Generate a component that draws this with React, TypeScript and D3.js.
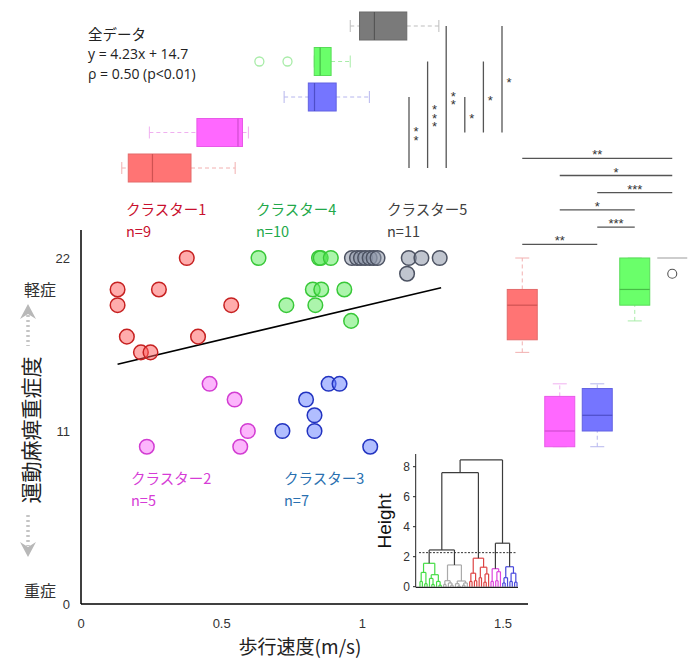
import React from 'react';
import * as d3 from 'd3';

// ---------- data ----------
const clusterNames = ['クラスター1', 'クラスター2', 'クラスター3', 'クラスター4', 'クラスター5'];
const clusterN = [9, 5, 7, 10, 11];

const speed1 = [0.376, 0.13, 0.277, 0.13, 0.534, 0.163, 0.416, 0.213, 0.247];
const severity1 = [22, 20, 20, 19, 19, 17, 17, 16, 16];
const speed2 = [0.457, 0.546, 0.593, 0.234, 0.566];
const severity2 = [14, 13, 11, 10, 10];
const speed3 = [0.88, 0.919, 0.8, 0.83, 0.716, 0.83, 1.028];
const severity3 = [14, 14, 13, 12, 11, 11, 10];
const speed4 = [0.631, 0.846, 0.852, 0.888, 0.824, 0.854, 0.936, 0.73, 0.833, 0.96];
const severity4 = [22, 22, 22, 22, 20, 20, 20, 19, 19, 18];
const speed5 = [0.963, 0.981, 0.995, 1.01, 1.026, 1.04, 1.054, 1.165, 1.21, 1.275, 1.159];
const severity5 = [22, 22, 22, 22, 22, 22, 22, 22, 22, 22, 21];

const regSlope = 4.23;
const regIntercept = 14.7;
const regRange = [0.13, 1.28];

const xTicks = [0, 0.5, 1, 1.5];
const xTickLabels = ['0', '0.5', '1', '1.5'];
const yTicks = [0, 11, 22];

// box stats: [min, q1, median, q3, max]
const speedBoxes = [
  [0.145, 0.168, 0.254, 0.391, 0.548],
  [0.243, 0.412, 0.558, 0.574, 0.595],
  [0.722, 0.808, 0.83, 0.907, 1.025],
  [0.829, 0.829, 0.85, 0.889, 0.957],
  [0.957, 0.99, 1.043, 1.158, 1.272],
];
const speedOutliers = [[], [], [], [0.634, 0.734], []];
const severityBoxes = [
  [16, 16.8, 19, 20, 22],
  [10, 10, 11, 13.2, 14],
  [10, 11, 12, 13.7, 14],
  [18, 19, 20, 22, 22],
  [22, 22, 22, 22, 22],
];
const severityOutliers = [[], [], [], [], [21]];

const speedComparisons: [number, number, string][] = [
  [1, 3, '**'], [1, 4, '***'], [1, 5, '**'], [2, 3, '*'], [2, 4, '*'], [2, 5, '*'],
];
const severityComparisons: [number, number, string][] = [
  [1, 5, '**'], [2, 5, '*'], [3, 5, '***'], [2, 4, '*'], [3, 4, '***'], [1, 3, '**'],
];

// dendrogram: [height, left, right], leaf = 0
const dendroC4: any = [1.56, [0.95, [0.35, 0, 0], [0.2, 0, 0]], [0.8, [0.55, 0, [0.15, 0, 0]], [0.35, 0, [0.1, 0, 0]]]];
const dendroC5: any = [1.45, [0.4, [0.15, 0, 0], [0.25, 0, [0.1, 0, 0]]], [0.38, [0.2, 0, [0.05, 0, 0]], [0.25, [0.1, 0, 0], 0]]];
const dendroC1: any = [1.9, [0.9, [0.35, 0, 0], [0.4, 0, 0]], [1.3, [0.6, 0, 0], [0.85, [0.3, 0, 0], 0]]];
const dendroC2: any = [1.2, [0.35, 0, 0], [1.0, [0.4, 0, 0], 0]];
const dendroC3: any = [1.33, [0.6, [0.25, 0, 0], 0], [0.9, [0.35, 0, 0], [0.3, 0, 0]]];
const dendroTop: any = [8.45, [7.6, [2.45, 'c4', 'c5'], 'c1'], [2.9, 'c2', 'c3']];
const dendroCut = 2.27;
const dendroTicks = [0, 2, 4, 6, 8];

// ---------- styles ----------
const JP = "'Noto Sans CJK JP', 'Noto Sans', sans-serif";
const LAT = "'Open Sans', 'Noto Sans CJK JP', sans-serif";
const NUM = "'Liberation Sans', Arial, sans-serif";

const ptFill = ['rgba(255,90,90,0.5)', 'rgba(250,110,250,0.5)', 'rgba(100,125,255,0.5)', 'rgba(90,235,90,0.5)', 'rgba(140,150,168,0.55)'];
const ptStroke = ['#c62020', '#d23cd2', '#2233c0', '#38c838', '#4c5262'];
const labelColor = ['#c8102e', '#d63cd6', '#2a70b0', '#22a84a', '#404040'];
const boxFill = ['#ff7474', '#ff68ff', '#7575ff', '#6aff6a', '#7a7a7a'];
const boxStroke = ['#e46a6a', '#e85ae8', '#6262e2', '#58dc58', '#6a6a6a'];
const boxMed = ['#cf5252', '#d04cd0', '#4e4ec8', '#46bc46', '#555555'];
const whiskColor = ['#f2b0b0', '#f0b0f0', '#b6b6ee', '#a8eca8', '#bdbdbd'];
const dendroColor = { c1: '#dd4444', c2: '#dd44dd', c3: '#4848dd', c4: '#44dd44', c5: '#aaaaaa' } as Record<string, string>;

// ---------- scales ----------
const x = d3.scaleLinear().domain([0, 1.5]).range([81, 503]);
const y = d3.scaleLinear().domain([0, 22]).range([604, 258]);
const topBand = d3.scaleBand<number>().domain([5, 4, 3, 2, 1]).range([8.25, 185.75]);
const rightBand = d3.scaleBand<number>().domain([1, 2, 3, 4, 5]).range([503.5, 691]);
const dy = d3.scaleLinear().domain([0, 8]).range([586.7, 466.7]);
const leafX = d3.scaleLinear().domain([0, 41]).range([420, 517]);

function buildDendro() {
  const segs: { x1: number; y1: number; x2: number; y2: number; c: string }[] = [];
  const subs: Record<string, any> = { c1: dendroC1, c2: dendroC2, c3: dendroC3, c4: dendroC4, c5: dendroC5 };
  let idx = 0;
  const walk = (node: any, color: string): { x: number; h: number } => {
    if (typeof node === 'string') return walk(subs[node], dendroColor[node]);
    if (node === 0) {
      const p = { x: leafX(idx), h: 0 };
      idx += 1;
      return p;
    }
    const [h, a, b] = node;
    const ca = walk(a, color);
    const cb = walk(b, color);
    segs.push({ x1: ca.x, y1: dy(h), x2: cb.x, y2: dy(h), c: color });
    segs.push({ x1: ca.x, y1: dy(ca.h), x2: ca.x, y2: dy(h), c: color });
    segs.push({ x1: cb.x, y1: dy(cb.h), x2: cb.x, y2: dy(h), c: color });
    return { x: (ca.x + cb.x) / 2, h };
  };
  walk(dendroTop, '#3c3c3c');
  return segs;
}

export default function App() {
  const clusters = [
    [speed1, severity1], [speed2, severity2], [speed3, severity3], [speed4, severity4], [speed5, severity5],
  ];
  const drawOrder = [0, 3, 4, 1, 2];
  const segs = buildDendro();
  const bh = 28;
  const bw = 30;

  const clusterLabelPos = [
    [126, 208], [131, 477], [284, 477], [256, 208], [387, 208],
  ];

  return (
    <svg width={700} height={669} style={{ position: 'absolute', left: 0, top: 0, background: '#fff' }}>
      {/* top-left text */}
      <g fill="#222">
        <text x={88} y={33} dominantBaseline="central" fontFamily={JP} fontSize={14.5}>全データ</text>
        <text x={88} y={53} dominantBaseline="central" fontFamily={LAT} fontSize={14}>y = 4.23x + 14.7</text>
        <text x={88} y={73} dominantBaseline="central" fontFamily={LAT} fontSize={14}>ρ = 0.50 (p&lt;0.01)</text>
      </g>

      {/* top boxplots (speed) */}
      {speedBoxes.map((b, i) => {
        const cy = (topBand(i + 1) as number) + topBand.bandwidth() / 2;
        const [mn, q1, md, q3, mx] = b;
        return (
          <g key={'sb' + i}>
            <line x1={x(mn)} x2={x(q1)} y1={cy} y2={cy} stroke={whiskColor[i]} strokeDasharray="4,3" />
            <line x1={x(q3)} x2={x(mx)} y1={cy} y2={cy} stroke={whiskColor[i]} strokeDasharray="4,3" />
            <line x1={x(mn)} x2={x(mn)} y1={cy - 6} y2={cy + 6} stroke={whiskColor[i]} />
            <line x1={x(mx)} x2={x(mx)} y1={cy - 6} y2={cy + 6} stroke={whiskColor[i]} />
            <rect x={x(q1)} y={cy - bh / 2} width={x(q3) - x(q1)} height={bh} fill={boxFill[i]} stroke={boxStroke[i]} />
            <line x1={x(md)} x2={x(md)} y1={cy - bh / 2} y2={cy + bh / 2} stroke={boxMed[i]} strokeWidth={1.2} />
            {speedOutliers[i].map((o, j) => (
              <circle key={j} cx={x(o)} cy={cy} r={4.5} fill="none" stroke={whiskColor[i]} strokeWidth={1.3} />
            ))}
          </g>
        );
      })}

      {/* vertical significance brackets */}
      {speedComparisons.map(([a, b, lab], i) => {
        const lx = 409 + i * 18.6;
        const ya = (topBand(a) as number) + topBand.bandwidth() / 2;
        const yb = (topBand(b) as number) + topBand.bandwidth() / 2;
        const mid = (ya + yb) / 2;
        return (
          <g key={'vc' + i}>
            <line x1={lx} x2={lx} y1={ya} y2={yb} stroke="#555" strokeWidth={1.3} />
            <text x={lx + 7} y={mid} textAnchor="middle"
              style={{ writingMode: 'vertical-rl', textOrientation: 'upright', letterSpacing: '-6.5px' } as any}
              fontFamily={NUM} fontSize={13} fill="#333">{lab}</text>
          </g>
        );
      })}

      {/* horizontal significance brackets */}
      {severityComparisons.map(([a, b, lab], i) => {
        const ly = 158.3 + i * 17.2;
        const xa = (rightBand(a) as number) + rightBand.bandwidth() / 2;
        const xb = (rightBand(b) as number) + rightBand.bandwidth() / 2;
        return (
          <g key={'hc' + i}>
            <line x1={xa} x2={xb} y1={ly} y2={ly} stroke="#555" strokeWidth={1.3} />
            <text x={(xa + xb) / 2} y={ly + 1} textAnchor="middle" fontFamily={NUM} fontSize={13} fill="#333">{lab}</text>
          </g>
        );
      })}

      {/* right boxplots (severity) */}
      {severityBoxes.map((b, i) => {
        const cx = (rightBand(i + 1) as number) + rightBand.bandwidth() / 2;
        const [mn, q1, md, q3, mx] = b;
        const flat = q1 === q3;
        return (
          <g key={'rb' + i}>
            {flat ? (
              <line x1={cx - bw / 2} x2={cx + bw / 2} y1={y(md)} y2={y(md)} stroke={whiskColor[i]} strokeWidth={1.5} />
            ) : (
              <g>
                {mn < q1 && <line x1={cx} x2={cx} y1={y(mn)} y2={y(q1)} stroke={whiskColor[i]} strokeDasharray="4,3" />}
                {mx > q3 && <line x1={cx} x2={cx} y1={y(q3)} y2={y(mx)} stroke={whiskColor[i]} strokeDasharray="4,3" />}
                <line x1={cx - 7} x2={cx + 7} y1={y(mn)} y2={y(mn)} stroke={whiskColor[i]} />
                <line x1={cx - 7} x2={cx + 7} y1={y(mx)} y2={y(mx)} stroke={whiskColor[i]} />
                <rect x={cx - bw / 2} y={y(q3)} width={bw} height={y(q1) - y(q3)} fill={boxFill[i]} stroke={boxStroke[i]} />
                <line x1={cx - bw / 2} x2={cx + bw / 2} y1={y(md)} y2={y(md)} stroke={boxMed[i]} strokeWidth={1.2} />
              </g>
            )}
            {severityOutliers[i].map((o, j) => (
              <circle key={j} cx={cx} cy={y(o)} r={4.5} fill="none" stroke="#555" strokeWidth={1.1} />
            ))}
          </g>
        );
      })}

      {/* main axes */}
      <line x1={81} x2={81} y1={230} y2={604} stroke="#000" strokeWidth={1.5} />
      <line x1={81} x2={528} y1={604} y2={604} stroke="#000" strokeWidth={1.5} />
      {xTicks.map((t, i) => (
        <text key={'xt' + i} x={x(t)} y={623} textAnchor="middle" dominantBaseline="central" fontFamily={NUM} fontSize={13} fill="#333">{xTickLabels[i]}</text>
      ))}
      {yTicks.map((t, i) => (
        <text key={'yt' + i} x={70} y={y(t)} textAnchor="end" dominantBaseline="central" fontFamily={NUM} fontSize={13} fill="#333">{t}</text>
      ))}
      <text x={300} y={645} textAnchor="middle" dominantBaseline="central" fontFamily={JP} fontSize={19} fill="#222">歩行速度(m/s)</text>

      {/* y-axis label with arrows */}
      <text x={40} y={289} textAnchor="middle" dominantBaseline="central" fontFamily={JP} fontSize={16} fill="#333">軽症</text>
      <text x={40} y={590} textAnchor="middle" dominantBaseline="central" fontFamily={JP} fontSize={16} fill="#333">重症</text>
      <text x={30} y={430} textAnchor="middle" dominantBaseline="central" transform="rotate(-90, 30, 430)" fontFamily={JP} fontSize={21} fill="#222">運動麻痺重症度</text>
      <g>
        <line x1={28} x2={28} y1={315} y2={346} stroke="#c4c4c4" strokeWidth={3.5} strokeDasharray="2,3" />
        <path d="M20,319 L28,304 L36,319 L28,314 Z" fill="#b8b8b8" />
        <line x1={28} x2={28} y1={515} y2={546} stroke="#c4c4c4" strokeWidth={3.5} strokeDasharray="2,3" />
        <path d="M20,542 L28,557 L36,542 L28,547 Z" fill="#b8b8b8" />
      </g>

      {/* regression line */}
      <line x1={x(regRange[0])} y1={y(regIntercept + regSlope * regRange[0])} x2={x(regRange[1])} y2={y(regIntercept + regSlope * regRange[1])} stroke="#000" strokeWidth={1.6} />

      {/* points */}
      {drawOrder.map((ci) => (
        <g key={'pts' + ci}>
          {clusters[ci][0].map((sx, j) => (
            <circle key={j} cx={x(sx)} cy={y(clusters[ci][1][j])} r={7.3} fill={ptFill[ci]} stroke={ptStroke[ci]} strokeWidth={1.5} />
          ))}
        </g>
      ))}

      {/* cluster labels */}
      {clusterNames.map((nm, i) => (
        <g key={'cl' + i} fontFamily={JP} fontSize={14.5} fill={labelColor[i]}>
          <text x={clusterLabelPos[i][0]} y={clusterLabelPos[i][1]} dominantBaseline="central">{nm}</text>
          <text x={clusterLabelPos[i][0]} y={clusterLabelPos[i][1] + 22} dominantBaseline="central">n={clusterN[i]}</text>
        </g>
      ))}

      {/* dendrogram inset */}
      <g>
        <line x1={415.7} x2={415.7} y1={454} y2={587} stroke="#222" strokeWidth={1} />
        {dendroTicks.map((t) => (
          <g key={'dt' + t}>
            <line x1={413} x2={415.7} y1={dy(t)} y2={dy(t)} stroke="#222" />
            <text x={410} y={dy(t)} textAnchor="end" dominantBaseline="central" fontFamily={NUM} fontSize={12} fill="#333">{t}</text>
          </g>
        ))}
        <text x={384} y={521} textAnchor="middle" dominantBaseline="central" transform="rotate(-90, 384, 521)" fontFamily={NUM} fontSize={19} fill="#111">Height</text>
        {segs.map((s, i) => (
          <line key={'sg' + i} x1={s.x1} y1={s.y1} x2={s.x2} y2={s.y2} stroke={s.c} strokeWidth={1.2} />
        ))}
        <line x1={415.7} x2={518} y1={587.3} y2={587.3} stroke="#222" strokeWidth={1.2} />
        <line x1={419} x2={517} y1={dy(dendroCut)} y2={dy(dendroCut)} stroke="#333" strokeDasharray="2,1.5" strokeWidth={1} />
      </g>
    </svg>
  );
}
